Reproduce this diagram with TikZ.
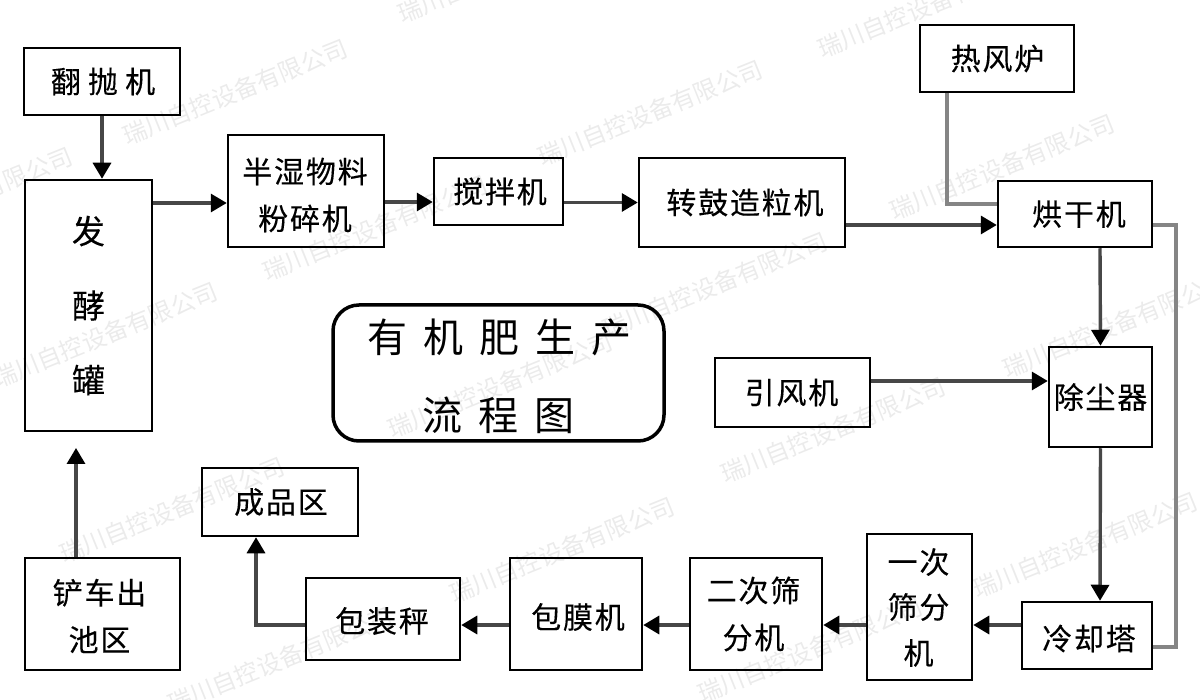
\documentclass[tikz,border=0pt]{standalone}
\usepackage{fontspec}
\usetikzlibrary{arrows.meta}
\newfontfamily\cjk[LetterSpace=6,FakeBold=0.25]{Noto Sans CJK SC}
\newfontfamily\cjkloose[LetterSpace=24,FakeBold=0.25]{Noto Sans CJK SC}
\newfontfamily\cjkwide[LetterSpace=40]{Noto Sans CJK SC}
\newfontfamily\cjkplain[FakeBold=0.25]{Noto Sans CJK SC}
\newfontfamily\cjkmark{Noto Sans CJK SC}
\newcommand{\nudge}[3]{\setbox0\hbox{\hspace*{#1}#3}\raisebox{#2}[\ht0][\dp0]{\copy0}}
\tikzset{
    box/.style={draw=black,line width=2.5pt,inner sep=0pt,align=center,font=\cjk\fontsize{30}{47}\selectfont},
    flow/.style={draw=black!72,line width=3.4pt,-{Triangle[length=16pt,width=18pt,color=black]}},
    hotpipe/.style={draw=black!48,line width=3.2pt},
    mark text/.style={text=black!8,rotate=22,font=\cjkmark\fontsize{24}{24}\selectfont}
}
\begin{document}
\begin{tikzpicture}[x=1pt,y=-1pt]
    \useasboundingbox (0,0) rectangle (1200,700);
    \foreach \wx/\wy in {235/92,650/113,1002/167,930/5,510/-30,375/228,715/285,1115/325,105/335,-40/200,500/385,833/430,1085/545,172/510,562/550,280/660,810/650}
        \node[mark text] at (\wx,\wy) {瑞川自控设备有限公司};
    \node[box,minimum width=156pt,minimum height=67pt,font=\cjkloose\fontsize{30}{47}\selectfont] (fanpao) at (102,81.5) {\nudge{2pt}{0pt}{翻抛机}};
    \node[box,minimum width=127pt,minimum height=251pt,font=\cjkplain\fontsize{33}{74.5}\selectfont] (fajiao) at (88.5,305.5) {发\\酵\\罐};
    \node[box,minimum width=156pt,minimum height=112pt] (banshi) at (306,191) {\nudge{-2pt}{-4pt}{半湿物料}\\\nudge{-2pt}{-4pt}{粉碎机}};
    \node[box,minimum width=129pt,minimum height=67pt] (jiaoban) at (498.5,191.5) {\nudge{3pt}{0pt}{搅拌机}};
    \node[box,minimum width=206pt,minimum height=89pt] (zhuangu) at (742,202.5) {\nudge{6pt}{0pt}{转鼓造粒机}};
    \node[box,minimum width=154pt,minimum height=67pt] (refeng) at (997,58.5) {\nudge{1pt}{0pt}{热风炉}};
    \node[box,minimum width=154pt,minimum height=66pt] (hongan) at (1075,214) {\nudge{8pt}{0pt}{烘干机}};
    \node[box,minimum width=103pt,minimum height=100pt] (chuchen) at (1100.5,397) {除尘器};
    \node[box,minimum width=155pt,minimum height=69pt] (yinfeng) at (792.5,392.5) {\nudge{-2pt}{0pt}{引风机}};
    \node[box,minimum width=331pt,minimum height=136pt,rounded corners=26pt,line width=3.5pt,font=\cjkwide\fontsize{40}{78}\selectfont] (title) at (498.5,373) {\nudge{1pt}{-3pt}{有机肥生产}\\\nudge{0pt}{-3pt}{流程图}};
    \node[box,minimum width=156pt,minimum height=68pt] (chengpin) at (280,502) {\nudge{2pt}{0pt}{成品区}};
    \node[box,minimum width=155pt,minimum height=112pt] (chanche) at (102.5,614) {\nudge{-6pt}{-2pt}{铲车出}\\\nudge{-6pt}{-2pt}{池区}};
    \node[box,minimum width=154pt,minimum height=82pt] (baozhuang) at (383,619) {\nudge{-2pt}{-2pt}{包装秤}};
    \node[box,minimum width=132pt,minimum height=112pt] (baomo) at (576,614) {\nudge{4pt}{-3pt}{包膜机}};
    \node[box,minimum width=132pt,minimum height=112pt] (erci) at (756,614) {\nudge{-5pt}{0pt}{二次筛}\\\nudge{-5pt}{0pt}{分机}};
    \node[box,minimum width=105pt,minimum height=146pt,font=\cjk\fontsize{30}{45}\selectfont] (yici) at (919.5,607) {\nudge{-2pt}{0pt}{一次}\\\nudge{-2pt}{0pt}{筛分}\\\nudge{-2pt}{-1pt}{机}};
    \node[box,minimum width=130pt,minimum height=67pt] (lengque) at (1087,635.5) {\nudge{4pt}{-3pt}{冷却塔}};
    \coordinate (fajiaoin) at (76,448);
    \coordinate (pipetop) at (947,204);
    \coordinate (piperight) at (1176,225);
    \coordinate (pipelow) at (1176,647);
    \coordinate (packcorner) at (256,625);
    \draw[flow] (fanpao.south) -- (fanpao.south |- fajiao.north);
    \draw[flow] ([yshift=102.5pt]fajiao.east) -- ([yshift=-12pt]banshi.west);
    \draw[flow] ([yshift=-11pt]banshi.east) -- ([yshift=-10.5pt]jiaoban.west);
    \draw[flow] ([yshift=-11pt]jiaoban.east) -- (zhuangu.west);
    \draw[flow] ([yshift=-22.5pt]zhuangu.east) -- ([yshift=-11pt]hongan.west);
    \draw[flow] ([xshift=25pt]hongan.south) -- (chuchen.north);
    \draw[flow] ([yshift=11.5pt]yinfeng.east) -- ([yshift=16pt]chuchen.west);
    \draw[flow] (chuchen.south) -- ([xshift=13pt]lengque.north);
    \draw[flow] ([yshift=10.5pt]lengque.west) -- ([yshift=-18pt]yici.east);
    \draw[flow] ([yshift=-18pt]yici.west) -- ([yshift=-11pt]erci.east);
    \draw[flow] ([yshift=-11pt]erci.west) -- ([yshift=-11pt]baomo.east);
    \draw[flow] ([yshift=-11pt]baomo.west) -- ([yshift=-6pt]baozhuang.east);
    \draw[flow] ([yshift=-6pt]baozhuang.west) -- (packcorner) -- ([xshift=-24pt]chengpin.south);
    \draw[flow] ([xshift=-26.5pt]chanche.north) -- (fajiaoin);
    % gray pipes to the dryer
    \draw[hotpipe] ([xshift=-50pt]refeng.south) -- (pipetop) -- ([yshift=10pt]hongan.west);
    \draw[hotpipe] ([yshift=-11pt]hongan.east) -- (piperight) -- (pipelow) -- ([yshift=-11.5pt]lengque.east);
\end{tikzpicture}
\end{document}
